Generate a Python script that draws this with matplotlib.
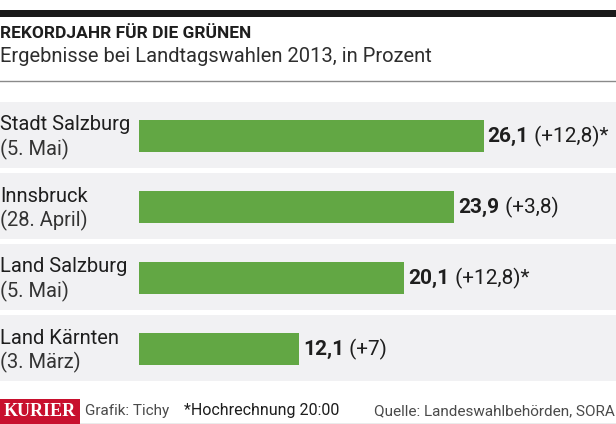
import matplotlib

matplotlib.use('Agg')

import matplotlib.pyplot as plt
from matplotlib.patches import Rectangle

# data
regions = ['Stadt Salzburg', 'Innsbruck', 'Land Salzburg', 'Land Kärnten']
dates = ['(5. Mai)', '(28. April)', '(5. Mai)', '(3. März)']
values = [26.1, 23.9, 20.1, 12.1]
changes = ['(+12,8)*', '(+3,8)', '(+12,8)*', '(+7)']

W, H = 616, 424
GREEN = '#62a744'
BAND = '#f1f1f3'
DARK = '#1e1e1e'
GREY = '#4a4a4a'
FONT = 'Roboto'

plt.rcParams['font.family'] = [FONT, 'DejaVu Sans']

fig = plt.figure(figsize=(W / 100, H / 100), dpi=100)

# background axes in pixel coordinates
bg = fig.add_axes([0, 0, 1, 1])
bg.set_xlim(0, W)
bg.set_ylim(H, 0)
bg.axis('off')

# top black rule
bg.add_patch(Rectangle((0, 10), W, 7, color='#1a1a1a', lw=0))
bg.text(0, 33, 'REKORDJAHR FÜR DIE GRÜNEN', fontsize=12.5, fontweight='bold',
        color=DARK, va='center', ha='left')
bg.text(0, 57, 'Ergebnisse bei Landtagswahlen 2013, in Prozent', fontsize=14.5,
        color='#2e2e2e', va='center', ha='left')
bg.plot([0, W], [80.5, 80.5], color='#8a8a8a', lw=1)

# row bands and labels
row_top = 100.5
row_h = 71
for i, (name, date) in enumerate(zip(regions, dates)):
    c = row_top + row_h * (i + 0.5)
    bg.add_patch(Rectangle((0, c - 34.5), W, 66, color=BAND, lw=0))
    bg.text(0, c - 11, name, fontsize=14.5, color=DARK, va='center', ha='left')
    bg.text(0, c + 13, date, fontsize=14.5, color='#333333', va='center', ha='left')

# bar axes
scale = 13.2  # px per percent
x0 = 139
ax = fig.add_axes([x0 / W, 1 - (row_top + 4 * row_h) / H, (W - x0) / W, 4 * row_h / H])
ax.set_xlim(0, (W - x0) / scale)
ax.set_ylim(3.5, -0.5)
ax.axis('off')
ax.patch.set_alpha(0)

ys = list(range(len(values)))
ax.barh(ys, values, height=32 / row_h, color=GREEN, lw=0)
for y, v, ch in zip(ys, values, changes):
    t = ax.annotate(f'{v:.1f}'.replace('.', ','), xy=(v, y), xytext=(3, 0),
                    textcoords='offset points', fontsize=15, fontweight='bold',
                    color=DARK, va='center', ha='left')
    ax.annotate(' ' + ch, xy=(1, 0.5), xycoords=t, fontsize=15, color=DARK,
                va='center', ha='left')

# footer
bg.add_patch(Rectangle((0, 399), 80, 25, color='#c8102e', lw=0))
bg.text(40, 411.5, 'KURIER', fontsize=13, fontweight='bold', color='white',
        family=['Liberation Serif', 'DejaVu Serif'], va='center', ha='center')
bg.text(85, 411.5, 'Grafik: Tichy', fontsize=11, color=GREY, va='center', ha='left')
bg.text(184, 411, '*Hochrechnung 20:00', fontsize=11.5, color=DARK, va='center', ha='left')
bg.text(W - 1, 411.5, 'Quelle: Landeswahlbehörden, SORA', fontsize=11, color=GREY,
        va='center', ha='right')
bg.plot([80, W], [423.5, 423.5], color='#9a9a9a', lw=1)

fig.savefig('out.png', dpi=100)
plt.close(fig)
